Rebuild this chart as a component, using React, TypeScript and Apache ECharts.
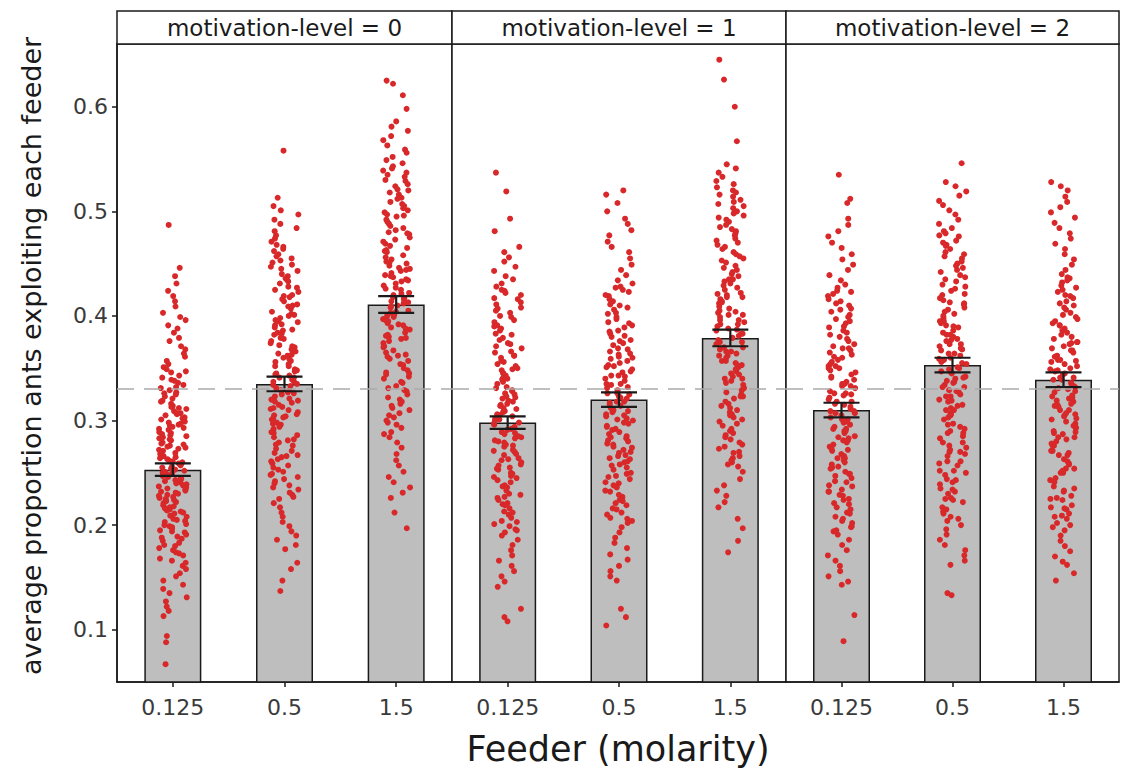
import { useEffect, useRef } from 'react';
import * as echarts from 'echarts';

// ---- data -------------------------------------------------------------
const feeders = ['0.125', '0.5', '1.5'];
const panelTitles = ['motivation-level = 0', 'motivation-level = 1', 'motivation-level = 2'];
const yTickValues = [0.1, 0.2, 0.3, 0.4, 0.5, 0.6];
const chanceLevel = 0.3333;

// bar heights (mean proportion) per feeder
const meansLevel0 = [0.253, 0.335, 0.411];
const meansLevel1 = [0.298, 0.32, 0.379];
const meansLevel2 = [0.31, 0.353, 0.339];

// half-length of the error bars
const errLevel0 = [0.006, 0.007, 0.008];
const errLevel1 = [0.006, 0.007, 0.008];
const errLevel2 = [0.007, 0.007, 0.007];

// per-run proportions (individual points)
const runsL0F0125 = [
  0.487, 0.446, 0.438, 0.431, 0.424, 0.419, 0.414, 0.409, 0.403, 0.399, 0.396, 0.391, 0.388, 0.384, 0.379, 0.376, 0.371, 0.368, 0.364, 0.361, 0.357, 0.354,
  0.351, 0.346, 0.343, 0.339, 0.334, 0.332, 0.327, 0.323, 0.321, 0.316, 0.312, 0.309, 0.305, 0.303, 0.298, 0.295, 0.291, 0.288, 0.284, 0.281, 0.278, 0.274, 0.271, 0.268, 0.264, 0.261, 0.257, 0.254, 0.252, 0.249, 0.245, 0.243, 0.239, 0.236, 0.232, 0.229, 0.226, 0.222, 0.219, 0.215, 0.212, 0.208, 0.204, 0.201, 0.197, 0.193, 0.189, 0.185, 0.181, 0.176, 0.171, 0.166, 0.161,
  0.349, 0.341, 0.336, 0.329, 0.325, 0.318, 0.314, 0.307, 0.301, 0.296, 0.293, 0.286, 0.282, 0.276, 0.273, 0.266, 0.262, 0.259, 0.255, 0.25, 0.247, 0.241, 0.237, 0.234, 0.228, 0.224, 0.217, 0.213, 0.209, 0.203, 0.199, 0.194, 0.187, 0.183, 0.178, 0.173, 0.168,
  0.311, 0.302, 0.297, 0.289, 0.279, 0.272, 0.263, 0.256, 0.248, 0.244, 0.238, 0.231, 0.227, 0.221, 0.214, 0.206, 0.198, 0.191,
  0.347, 0.338, 0.331, 0.326, 0.319, 0.313, 0.306, 0.299, 0.292, 0.287, 0.283, 0.277, 0.269, 0.265, 0.258, 0.253, 0.246, 0.242, 0.235, 0.23, 0.223, 0.218, 0.211, 0.205, 0.2, 0.195, 0.188, 0.18, 0.174, 0.164, 0.26, 0.251, 0.24, 0.233, 0.225, 0.216, 0.275, 0.285, 0.294, 0.307,
  0.158, 0.154, 0.151, 0.147, 0.143, 0.139, 0.135, 0.131, 0.127, 0.122, 0.118, 0.113,
  0.094, 0.088, 0.067,
];
const runsL0F05 = [
  0.558, 0.513, 0.505, 0.501, 0.497, 0.492, 0.488, 0.484, 0.481, 0.477, 0.474,
  0.471, 0.466, 0.462, 0.459, 0.455, 0.451, 0.447, 0.443, 0.438, 0.435, 0.431, 0.427, 0.423, 0.419, 0.414, 0.411, 0.407, 0.402, 0.398, 0.394, 0.391, 0.386, 0.382, 0.378, 0.374, 0.37, 0.366, 0.362, 0.357, 0.354, 0.349, 0.345, 0.341, 0.337, 0.333, 0.329, 0.325, 0.321, 0.317, 0.313, 0.308, 0.304, 0.301, 0.296, 0.292, 0.288, 0.284, 0.279, 0.276, 0.271, 0.267, 0.263, 0.259, 0.255, 0.251, 0.246, 0.242, 0.238, 0.234, 0.229, 0.225,
  0.468, 0.457, 0.449, 0.44, 0.433, 0.425, 0.416, 0.409, 0.4, 0.392, 0.384, 0.376, 0.368, 0.359, 0.352, 0.343, 0.335, 0.327, 0.319, 0.31, 0.302, 0.294, 0.286, 0.277, 0.269, 0.261, 0.253, 0.244, 0.236, 0.227,
  0.42, 0.404, 0.389, 0.372, 0.363, 0.347, 0.339, 0.331, 0.323, 0.315, 0.306, 0.298, 0.282, 0.265, 0.248,
  0.464, 0.453, 0.445, 0.436, 0.428, 0.418, 0.41, 0.401, 0.395, 0.387, 0.379, 0.371, 0.364, 0.356, 0.348, 0.341, 0.334, 0.326, 0.318, 0.311, 0.303, 0.297, 0.289, 0.281, 0.273, 0.266, 0.257, 0.249, 0.24, 0.231, 0.337, 0.329, 0.344, 0.352, 0.36, 0.312, 0.305, 0.32, 0.383, 0.396,
  0.221, 0.217, 0.212, 0.208, 0.203, 0.199, 0.194, 0.19, 0.186, 0.181, 0.177,
  0.164, 0.158, 0.147, 0.137,
];
const runsL0F15 = [
  0.625, 0.622, 0.611, 0.598, 0.586, 0.581, 0.577, 0.572, 0.568, 0.563, 0.559, 0.556, 0.552, 0.549,
  0.546, 0.541, 0.537, 0.533, 0.529, 0.524, 0.52, 0.516, 0.512, 0.507, 0.503, 0.499, 0.495, 0.49, 0.486, 0.482, 0.478, 0.473, 0.469, 0.465, 0.461, 0.456, 0.452, 0.448, 0.444, 0.439, 0.435, 0.431, 0.427, 0.422, 0.418, 0.414, 0.41, 0.405, 0.401, 0.397, 0.393, 0.388, 0.384, 0.38, 0.376, 0.371, 0.367, 0.363, 0.359, 0.354, 0.35, 0.346, 0.342, 0.337, 0.333, 0.329, 0.325, 0.32, 0.316, 0.312, 0.307, 0.303, 0.298, 0.293, 0.289, 0.284, 0.279, 0.274,
  0.543, 0.535, 0.526, 0.518, 0.509, 0.501, 0.492, 0.484, 0.475, 0.467, 0.458, 0.45, 0.441, 0.433, 0.425, 0.416, 0.408, 0.399, 0.391, 0.382, 0.374, 0.365, 0.357, 0.348, 0.34, 0.331, 0.322, 0.314, 0.305, 0.296,
  0.497, 0.479, 0.462, 0.445, 0.437, 0.42, 0.412, 0.403, 0.395, 0.378, 0.361, 0.344,
  0.539, 0.53, 0.521, 0.513, 0.505, 0.496, 0.488, 0.48, 0.471, 0.463, 0.454, 0.446, 0.438, 0.429, 0.421, 0.413, 0.404, 0.396, 0.387, 0.379, 0.37, 0.362, 0.353, 0.345, 0.336, 0.328, 0.318, 0.31, 0.3, 0.287, 0.426, 0.417, 0.409, 0.4, 0.392, 0.434, 0.443, 0.451, 0.389, 0.381,
  0.268, 0.262, 0.257, 0.251, 0.246, 0.241, 0.236, 0.231, 0.226,
  0.212, 0.197,
];
const runsL1F0125 = [
  0.537, 0.519, 0.493, 0.481, 0.466, 0.461, 0.456, 0.452, 0.447, 0.443, 0.438, 0.435, 0.431,
  0.428, 0.424, 0.42, 0.416, 0.411, 0.407, 0.403, 0.399, 0.394, 0.39, 0.386, 0.382, 0.377, 0.373, 0.369, 0.365, 0.36, 0.356, 0.352, 0.348, 0.343, 0.339, 0.335, 0.331, 0.326, 0.322, 0.318, 0.314, 0.309, 0.305, 0.301, 0.297, 0.292, 0.288, 0.284, 0.28, 0.275, 0.271, 0.267, 0.263, 0.258, 0.254, 0.25, 0.246, 0.241, 0.237, 0.233, 0.229, 0.224, 0.22, 0.216, 0.212, 0.207, 0.203, 0.199, 0.195, 0.19, 0.186,
  0.425, 0.417, 0.408, 0.4, 0.391, 0.383, 0.374, 0.366, 0.357, 0.349, 0.34, 0.332, 0.323, 0.315, 0.306, 0.298, 0.289, 0.281, 0.272, 0.264, 0.255, 0.247, 0.238, 0.23, 0.221, 0.213, 0.204, 0.196,
  0.362, 0.345, 0.328, 0.319, 0.311, 0.302, 0.294, 0.285, 0.277, 0.26, 0.243, 0.226,
  0.422, 0.413, 0.405, 0.396, 0.388, 0.379, 0.371, 0.362, 0.354, 0.345, 0.337, 0.329, 0.321, 0.312, 0.304, 0.296, 0.287, 0.279, 0.27, 0.262, 0.253, 0.245, 0.236, 0.227, 0.219, 0.21, 0.201, 0.193, 0.308, 0.3, 0.291, 0.283, 0.316, 0.325, 0.268, 0.276, 0.34, 0.35, 0.257, 0.249,
  0.181, 0.176, 0.171, 0.166, 0.161, 0.156, 0.151, 0.146, 0.141,
  0.12, 0.112, 0.108,
];
const runsL1F05 = [
  0.52, 0.516, 0.508, 0.5, 0.493, 0.488, 0.482, 0.477, 0.471, 0.466, 0.461, 0.455, 0.449, 0.444, 0.439, 0.434,
  0.431, 0.427, 0.423, 0.419, 0.414, 0.41, 0.406, 0.402, 0.397, 0.393, 0.389, 0.385, 0.38, 0.376, 0.372, 0.368, 0.363, 0.359, 0.355, 0.351, 0.346, 0.342, 0.338, 0.334, 0.329, 0.325, 0.321, 0.317, 0.312, 0.308, 0.304, 0.3, 0.295, 0.291, 0.287, 0.283, 0.278, 0.274, 0.27, 0.266, 0.261, 0.257, 0.253, 0.249, 0.244, 0.24, 0.236, 0.232, 0.227, 0.223, 0.219, 0.215, 0.21, 0.206, 0.202,
  0.428, 0.42, 0.411, 0.403, 0.394, 0.386, 0.377, 0.369, 0.36, 0.352, 0.343, 0.335, 0.326, 0.318, 0.309, 0.301, 0.292, 0.284, 0.275, 0.267, 0.258, 0.25, 0.241, 0.233, 0.224, 0.216, 0.207,
  0.381, 0.364, 0.347, 0.331, 0.322, 0.314, 0.305, 0.297, 0.28, 0.263, 0.246,
  0.425, 0.416, 0.408, 0.399, 0.391, 0.383, 0.374, 0.366, 0.357, 0.349, 0.34, 0.332, 0.323, 0.315, 0.306, 0.298, 0.289, 0.281, 0.272, 0.264, 0.255, 0.247, 0.238, 0.229, 0.221, 0.212, 0.204, 0.326, 0.318, 0.31, 0.302, 0.294, 0.335, 0.343, 0.285, 0.277, 0.353, 0.361, 0.269, 0.26,
  0.198, 0.193, 0.188, 0.183, 0.178, 0.172, 0.167, 0.161, 0.156, 0.151, 0.147,
  0.12, 0.112, 0.104,
];
const runsL1F15 = [
  0.645, 0.626, 0.6, 0.567, 0.545, 0.541, 0.537, 0.533, 0.529, 0.526, 0.523,
  0.52, 0.516, 0.511, 0.507, 0.503, 0.498, 0.494, 0.49, 0.485, 0.481, 0.477, 0.472, 0.468, 0.464, 0.459, 0.455, 0.451, 0.446, 0.442, 0.438, 0.433, 0.429, 0.425, 0.42, 0.416, 0.412, 0.407, 0.403, 0.399, 0.394, 0.39, 0.386, 0.381, 0.377, 0.373, 0.368, 0.364, 0.36, 0.355, 0.351, 0.347, 0.342, 0.338, 0.334, 0.329, 0.325, 0.321, 0.316, 0.312, 0.308, 0.303, 0.299, 0.295, 0.29, 0.286, 0.282, 0.277, 0.273, 0.269, 0.264, 0.26, 0.256, 0.251,
  0.518, 0.509, 0.5, 0.492, 0.483, 0.474, 0.466, 0.457, 0.448, 0.44, 0.431, 0.422, 0.414, 0.405, 0.396, 0.388, 0.379, 0.37, 0.362, 0.353, 0.344, 0.336, 0.327, 0.318, 0.31, 0.301, 0.292, 0.284, 0.275, 0.266, 0.258,
  0.435, 0.418, 0.401, 0.392, 0.383, 0.375, 0.366, 0.357, 0.34, 0.323, 0.306,
  0.514, 0.505, 0.496, 0.487, 0.479, 0.47, 0.461, 0.453, 0.444, 0.435, 0.427, 0.418, 0.409, 0.401, 0.392, 0.383, 0.375, 0.366, 0.357, 0.349, 0.34, 0.331, 0.323, 0.314, 0.305, 0.297, 0.288, 0.279, 0.27, 0.262, 0.387, 0.379, 0.37, 0.396, 0.404, 0.362, 0.353, 0.413, 0.421, 0.345,
  0.244, 0.238, 0.233, 0.228, 0.222, 0.217,
  0.206, 0.197, 0.185, 0.174,
];
const runsL2F0125 = [
  0.535, 0.512, 0.508, 0.493, 0.487, 0.481, 0.476, 0.47, 0.465, 0.459, 0.454, 0.449, 0.444, 0.439, 0.434, 0.43,
  0.427, 0.423, 0.419, 0.414, 0.41, 0.406, 0.401, 0.397, 0.393, 0.389, 0.384, 0.38, 0.376, 0.371, 0.367, 0.363, 0.358, 0.354, 0.35, 0.346, 0.341, 0.337, 0.333, 0.328, 0.324, 0.32, 0.315, 0.311, 0.307, 0.303, 0.298, 0.294, 0.29, 0.285, 0.281, 0.277, 0.272, 0.268, 0.264, 0.26, 0.255, 0.251, 0.247, 0.242, 0.238, 0.234, 0.229, 0.225, 0.221, 0.217, 0.212, 0.208, 0.204, 0.199, 0.195, 0.191,
  0.424, 0.416, 0.407, 0.399, 0.39, 0.382, 0.373, 0.365, 0.356, 0.348, 0.339, 0.331, 0.322, 0.313, 0.305, 0.296, 0.288, 0.279, 0.271, 0.262, 0.254, 0.245, 0.237, 0.228, 0.22, 0.211, 0.202, 0.194,
  0.369, 0.352, 0.335, 0.326, 0.318, 0.309, 0.301, 0.292, 0.283, 0.266, 0.249, 0.232,
  0.421, 0.412, 0.404, 0.395, 0.386, 0.378, 0.369, 0.361, 0.352, 0.344, 0.335, 0.326, 0.318, 0.309, 0.301, 0.292, 0.284, 0.275, 0.266, 0.258, 0.249, 0.241, 0.232, 0.224, 0.215, 0.206, 0.198, 0.316, 0.307, 0.299, 0.29, 0.325, 0.333, 0.281, 0.273, 0.342, 0.35, 0.264, 0.256, 0.36,
  0.186, 0.181, 0.176, 0.171, 0.166, 0.161, 0.156, 0.151, 0.146, 0.143,
  0.114, 0.089,
];
const runsL2F05 = [
  0.546, 0.528, 0.524, 0.519, 0.515, 0.51, 0.506, 0.501, 0.497, 0.492, 0.488, 0.484,
  0.481, 0.477, 0.472, 0.468, 0.464, 0.459, 0.455, 0.45, 0.446, 0.442, 0.437, 0.433, 0.428, 0.424, 0.42, 0.415, 0.411, 0.406, 0.402, 0.398, 0.393, 0.389, 0.384, 0.38, 0.376, 0.371, 0.367, 0.362, 0.358, 0.354, 0.349, 0.345, 0.34, 0.336, 0.332, 0.327, 0.323, 0.318, 0.314, 0.31, 0.305, 0.301, 0.296, 0.292, 0.288, 0.283, 0.279, 0.274, 0.27, 0.266, 0.261, 0.257, 0.252, 0.248, 0.244, 0.239, 0.235, 0.23, 0.226, 0.222, 0.217, 0.213, 0.208, 0.204, 0.2, 0.196,
  0.479, 0.47, 0.461, 0.452, 0.444, 0.435, 0.426, 0.417, 0.408, 0.4, 0.391, 0.382, 0.373, 0.364, 0.356, 0.347, 0.338, 0.329, 0.32, 0.312, 0.303, 0.294, 0.285, 0.276, 0.268, 0.259, 0.25, 0.241, 0.232, 0.224, 0.215, 0.206,
  0.413, 0.395, 0.378, 0.369, 0.36, 0.351, 0.342, 0.334, 0.325, 0.307, 0.29, 0.272,
  0.476, 0.467, 0.457, 0.448, 0.439, 0.43, 0.421, 0.412, 0.404, 0.395, 0.386, 0.377, 0.368, 0.359, 0.35, 0.341, 0.332, 0.323, 0.315, 0.306, 0.297, 0.288, 0.279, 0.27, 0.261, 0.252, 0.243, 0.234, 0.225, 0.211, 0.355, 0.346, 0.337, 0.328, 0.364, 0.373, 0.319, 0.31, 0.382, 0.39,
  0.191, 0.186, 0.181, 0.176, 0.171, 0.166, 0.162,
  0.135, 0.133,
];
const runsL2F15 = [
  0.528, 0.524, 0.52, 0.514, 0.509, 0.504, 0.499, 0.494, 0.489, 0.484, 0.479, 0.474, 0.469, 0.464, 0.459, 0.454, 0.449, 0.444,
  0.44, 0.436, 0.432, 0.427, 0.423, 0.419, 0.414, 0.41, 0.406, 0.401, 0.397, 0.393, 0.388, 0.384, 0.38, 0.375, 0.371, 0.367, 0.362, 0.358, 0.354, 0.349, 0.345, 0.341, 0.336, 0.332, 0.328, 0.323, 0.319, 0.315, 0.31, 0.306, 0.302, 0.297, 0.293, 0.289, 0.284, 0.28, 0.276, 0.271, 0.267, 0.263, 0.258, 0.254, 0.25, 0.245, 0.241, 0.237, 0.232, 0.228, 0.224, 0.219, 0.215, 0.211, 0.206, 0.202, 0.198,
  0.437, 0.429, 0.42, 0.412, 0.403, 0.395, 0.386, 0.378, 0.369, 0.361, 0.352, 0.344, 0.335, 0.327, 0.318, 0.31, 0.301, 0.293, 0.284, 0.276, 0.267, 0.259, 0.25, 0.242, 0.233, 0.225, 0.216, 0.208,
  0.391, 0.374, 0.357, 0.348, 0.339, 0.331, 0.322, 0.314, 0.305, 0.288, 0.271, 0.254,
  0.434, 0.425, 0.417, 0.408, 0.399, 0.391, 0.382, 0.373, 0.365, 0.356, 0.347, 0.339, 0.33, 0.321, 0.313, 0.304, 0.295, 0.287, 0.278, 0.269, 0.261, 0.252, 0.243, 0.235, 0.226, 0.217, 0.209, 0.2, 0.341, 0.333, 0.324, 0.316, 0.35, 0.358, 0.307, 0.299, 0.367, 0.375, 0.29, 0.282,
  0.195, 0.19, 0.185, 0.18, 0.175, 0.17, 0.165, 0.162,
  0.154, 0.147,
];

const panelMeans = [meansLevel0, meansLevel1, meansLevel2];
const panelErrs = [errLevel0, errLevel1, errLevel2];
const panelRuns = [
  [runsL0F0125, runsL0F05, runsL0F15],
  [runsL1F0125, runsL1F05, runsL1F15],
  [runsL2F0125, runsL2F05, runsL2F15],
];

// ---- layout / style ----------------------------------------------------
const FONT = "'DejaVu Sans', Verdana, sans-serif";
const INK = '#1a1a1a';
const TEXT = '#3a3a3a';
const panelLeft = [117, 452, 786];
const panelWidth = [335, 334, 333];
const plotTop = 44;
const plotHeight = 638;
const stripTop = 11;
const yMin = 0.05;
const yMax = 0.66;

function buildOption() {
  const grid: any[] = [];
  const xAxis: any[] = [];
  const yAxis: any[] = [];
  const series: any[] = [];
  const graphic: any[] = [];

  panelTitles.forEach((title, i) => {
    grid.push({
      left: panelLeft[i],
      top: plotTop,
      width: panelWidth[i],
      height: plotHeight,
      show: true,
      backgroundColor: '#ffffff',
      borderColor: INK,
      borderWidth: 1.5,
    });
    xAxis.push({
      type: 'category',
      gridIndex: i,
      data: feeders,
      jitter: 28,
      jitterOverlap: true,
      axisLine: { show: true, lineStyle: { color: INK, width: 1.5 } },
      axisTick: { show: true, alignWithLabel: true, length: 5, lineStyle: { color: INK, width: 1.5 } },
      axisLabel: { fontSize: 22, fontFamily: FONT, color: TEXT, margin: 14 },
      splitLine: { show: false },
    });
    yAxis.push({
      type: 'value',
      gridIndex: i,
      min: yMin,
      max: yMax,
      axisLine: { show: i === 0, lineStyle: { color: INK, width: 1.5 } },
      axisTick: {
        show: i === 0,
        length: 5,
        customValues: yTickValues,
        lineStyle: { color: INK, width: 1.5 },
      },
      axisLabel: {
        show: i === 0,
        customValues: yTickValues,
        fontSize: 22,
        fontFamily: FONT,
        color: TEXT,
        margin: 9,
      },
      splitLine: { show: false },
    });

    // dashed reference line at one third
    series.push({
      type: 'line',
      xAxisIndex: i,
      yAxisIndex: i,
      data: [],
      z: 1,
      silent: true,
      markLine: {
        silent: true,
        symbol: ['none', 'none'],
        label: { show: false },
        lineStyle: { color: '#ababab', width: 1.5, type: [17, 10] },
        data: [{ yAxis: chanceLevel }],
      },
    });

    series.push({
      type: 'bar',
      xAxisIndex: i,
      yAxisIndex: i,
      data: panelMeans[i],
      barWidth: 57,
      z: 2,
      itemStyle: { color: '#bebebe', borderColor: INK, borderWidth: 1.5 },
    });

    const points: number[][] = [];
    panelRuns[i].forEach((runs, k) => runs.forEach((v) => points.push([k, v])));
    series.push({
      type: 'scatter',
      xAxisIndex: i,
      yAxisIndex: i,
      data: points,
      symbolSize: 6,
      z: 3,
      itemStyle: { color: '#d8282a', opacity: 1 },
    });

    series.push({
      type: 'custom',
      xAxisIndex: i,
      yAxisIndex: i,
      z: 4,
      data: panelMeans[i].map((m, k) => [k, m - panelErrs[i][k], m + panelErrs[i][k]]),
      encode: { x: 0, y: [1, 2] },
      renderItem: (_params: any, api: any) => {
        const x = api.value(0);
        const lo = api.coord([x, api.value(1)]);
        const hi = api.coord([x, api.value(2)]);
        const half = 18;
        const style = { stroke: INK, lineWidth: 2.2 };
        return {
          type: 'group',
          children: [
            { type: 'line', shape: { x1: lo[0], y1: lo[1], x2: hi[0], y2: hi[1] }, style },
            { type: 'line', shape: { x1: lo[0] - half, y1: lo[1], x2: lo[0] + half, y2: lo[1] }, style },
            { type: 'line', shape: { x1: hi[0] - half, y1: hi[1], x2: hi[0] + half, y2: hi[1] }, style },
          ],
        };
      },
    });

    // facet strip
    graphic.push({
      type: 'rect',
      shape: { x: panelLeft[i], y: stripTop, width: panelWidth[i], height: plotTop - stripTop },
      style: { fill: '#ffffff', stroke: INK, lineWidth: 1.5 },
      z: 10,
    });
    graphic.push({
      type: 'text',
      x: panelLeft[i] + panelWidth[i] / 2,
      y: (stripTop + plotTop) / 2,
      style: {
        text: title,
        fontSize: 23,
        fontFamily: FONT,
        fill: INK,
        align: 'center',
        verticalAlign: 'middle',
      },
      z: 11,
    });
  });

  graphic.push({
    type: 'text',
    x: 618,
    y: 749,
    style: {
      text: 'Feeder (molarity)',
      fontSize: 35,
      fontFamily: FONT,
      fill: INK,
      align: 'center',
      verticalAlign: 'middle',
    },
  });
  graphic.push({
    type: 'text',
    x: 31,
    y: 356,
    rotation: Math.PI / 2,
    style: {
      text: 'average proportion ants exploiting each feeder',
      fontSize: 27,
      fontFamily: FONT,
      fill: INK,
      align: 'center',
      verticalAlign: 'middle',
    },
  });

  return {
    animation: false,
    backgroundColor: '#ffffff',
    grid,
    xAxis,
    yAxis,
    series,
    graphic,
  };
}

export default function App() {
  const ref = useRef<HTMLDivElement>(null);
  useEffect(() => {
    if (!ref.current) return;
    const chart = echarts.init(ref.current, undefined, { renderer: 'svg' });
    chart.setOption(buildOption() as any);
    return () => chart.dispose();
  }, []);
  return (
    <div
      ref={ref}
      style={{ position: 'fixed', left: 0, top: 0, width: 1121, height: 779, background: '#ffffff' }}
    />
  );
}
